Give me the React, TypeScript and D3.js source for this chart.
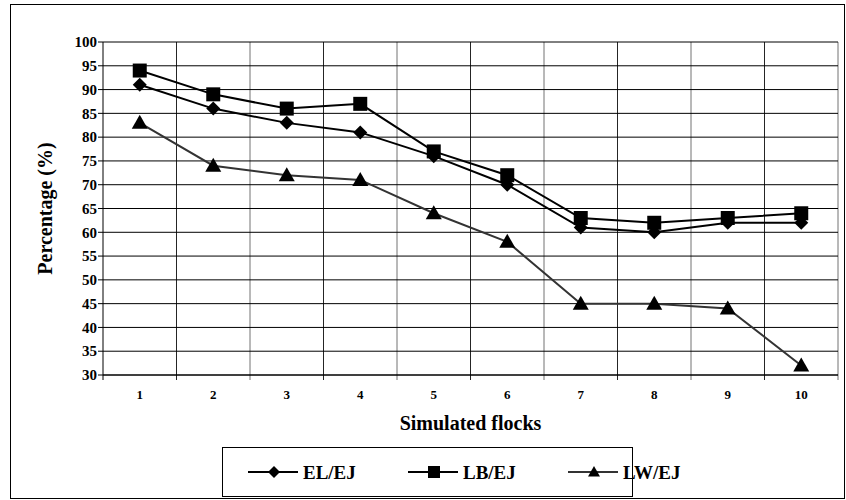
import React from "react";
import * as d3 from "d3";

const categories = ["1", "2", "3", "4", "5", "6", "7", "8", "9", "10"];
const elEj = [91, 86, 83, 81, 76, 70, 61, 60, 62, 62];
const lbEj = [94, 89, 86, 87, 77, 72, 63, 62, 63, 64];
const lwEj = [83, 74, 72, 71, 64, 58, 45, 45, 44, 32];
const yTicks = [30, 35, 40, 45, 50, 55, 60, 65, 70, 75, 80, 85, 90, 95, 100];

const W = 846, H = 500;
const L = 103, R = 838, T = 42, B = 375;
const FONT = "'Liberation Serif', 'Times New Roman', serif";

export default function App() {
  const x = d3.scaleBand<string>().domain(categories).range([L, R]);
  const y = d3.scaleLinear().domain([30, 100]).range([B, T]);
  const cx = (c: string) => (x(c) as number) + x.bandwidth() / 2;
  const line = d3.line<number>().x((_, i) => cx(categories[i])).y((v) => y(v));

  const diamond = (px: number, py: number, s = 7) =>
    `M${px},${py - s}L${px + s},${py}L${px},${py + s}L${px - s},${py}Z`;
  const square = (px: number, py: number, s = 7) =>
    `M${px - s},${py - s}h${2 * s}v${2 * s}h${-2 * s}Z`;
  const tri = (px: number, py: number, s = 8) =>
    `M${px},${py - s}L${px + s},${py + s * 0.75}L${px - s},${py + s * 0.75}Z`;

  const series = [
    { name: "EL/EJ", data: elEj, color: "#000", marker: diamond },
    { name: "LB/EJ", data: lbEj, color: "#000", marker: square },
    { name: "LW/EJ", data: lwEj, color: "#333", marker: tri },
  ];
  const legendX = [248, 408, 568];

  return (
    <svg width={W} height={H} style={{ position: "absolute", left: 0, top: 0 }} fontFamily={FONT}>
      <rect x={0} y={0} width={W} height={H} fill="#fff" />
      <rect x={10.5} y={4.5} width={834} height={494} fill="none" stroke="#000" strokeWidth={1} />
      {yTicks.map((t) => (
        <g key={t}>
          <line x1={L - 5} x2={R} y1={y(t)} y2={y(t)} stroke="#000" strokeWidth={1} />
          <text x={L - 6} y={y(t)} dy="0.35em" textAnchor="end" fontSize={15} fontWeight="bold">{t}</text>
        </g>
      ))}
      {categories.map((c, i) => (
        <line key={c} x1={(x(c) as number) + x.bandwidth()} x2={(x(c) as number) + x.bandwidth()} y1={T} y2={B + 5} stroke="#000" strokeWidth={1} opacity={i % 2 ? 0.55 : 0.85} />
      ))}
      <line x1={L} x2={L} y1={T} y2={B + 5} stroke="#000" strokeWidth={1} />
      <line x1={L} x2={R} y1={B} y2={B} stroke="#000" strokeWidth={1.2} />
      {categories.map((c) => (
        <text key={c} x={cx(c)} y={399} textAnchor="middle" fontSize={13} fontWeight="bold">{c}</text>
      ))}
      {series.map((s) => (
        <g key={s.name}>
          <path d={line(s.data) as string} fill="none" stroke={s.color} strokeWidth={2} />
          {s.data.map((v, i) => (
            <path key={i} d={s.marker(cx(categories[i]), y(v))} fill="#000" />
          ))}
        </g>
      ))}
      <text x={(L + R) / 2} y={430} textAnchor="middle" fontSize={20} fontWeight="bold">Simulated flocks</text>
      <text transform={`translate(52,${(T + B) / 2}) rotate(-90)`} textAnchor="middle" fontSize={20} fontWeight="bold">Percentage (%)</text>
      <rect x={222.5} y={447.5} width={410} height={49} fill="#fff" stroke="#000" strokeWidth={1} />
      {series.map((s, i) => (
        <g key={s.name}>
          <line x1={legendX[i]} x2={legendX[i] + 50} y1={472} y2={472} stroke={s.color} strokeWidth={2} />
          <path d={s.marker(legendX[i] + 26, 472, 6)} fill="#000" />
          <text x={legendX[i] + 55} y={472} dy="0.35em" fontSize={19} fontWeight="bold">{s.name}</text>
        </g>
      ))}
    </svg>
  );
}
